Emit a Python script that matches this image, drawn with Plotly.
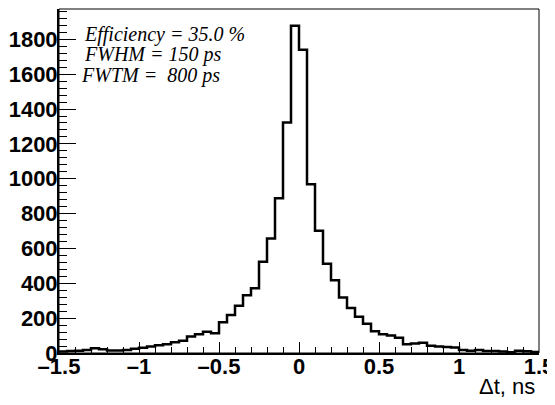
import plotly.graph_objects as go

# histogram: 60 bins of 0.05 ns from -1.5 to 1.5
bin_low = -1.5
bin_width = 0.05
counts = [
    8, 12, 13, 17, 27, 21, 15, 14, 17, 24,
    30, 37, 45, 50, 62, 70, 95, 108, 122, 113,
    176, 218, 271, 332, 371, 523, 657, 888, 1322, 1878,
    1740, 968, 701, 512, 418, 319, 258, 208, 168, 125,
    108, 100, 88, 50, 55, 59, 42, 38, 34, 31,
    17, 13, 17, 11, 11, 8, 5, 13, 10, 6,
]
edges = [round(bin_low + i * bin_width, 4) for i in range(len(counts) + 1)]

stat_lines = ["Efficiency = 35.0 %", "FWHM = 150 ps", "FWTM =  800 ps"]
x_ticks = [-1.5, -1, -0.5, 0, 0.5, 1, 1.5]
x_labels = ["\u20131.5", "\u20131", "\u20130.5", "0", "0.5", "1", "1.5"]

fig = go.Figure()

# step outline, ROOT "HIST" style
fig.add_trace(
    go.Scatter(
        x=edges,
        y=counts + [counts[-1]],
        mode="lines",
        line=dict(color="black", width=2.5, shape="hv"),
        showlegend=False,
        hoverinfo="skip",
    )
)

# frame around the pad
fig.add_shape(
    type="rect", xref="paper", yref="paper", x0=0, x1=1, y0=0, y1=1,
    line=dict(color="black", width=1), layer="above",
)

tick_font = dict(family="Liberation Sans", size=22, color="black", weight="bold")

# page body has an 8px margin, so the figure is shifted by it
fig.update_layout(
    width=547,
    height=397,
    margin=dict(l=51, r=16, t=1, b=52),
    paper_bgcolor="white",
    plot_bgcolor="white",
    showlegend=False,
    xaxis=dict(
        range=[-1.5, 1.5],
        tickvals=x_ticks,
        ticktext=x_labels,
        ticks="inside",
        ticklen=11,
        tickwidth=1,
        tickcolor="black",
        minor=dict(ticks="inside", ticklen=6, dtick=0.1, tickcolor="black", tickwidth=1),
        showline=True,
        linewidth=2,
        linecolor="black",
        showgrid=False,
        zeroline=False,
        tickfont=tick_font,
        ticklabelstandoff=-7,
        ticklabeloverflow="allow",
    ),
    yaxis=dict(
        range=[0, 1974],
        dtick=200,
        ticks="inside",
        ticklen=17,
        tickwidth=1,
        tickcolor="black",
        minor=dict(ticks="inside", ticklen=8, dtick=40, tickcolor="black", tickwidth=1),
        showline=True,
        linewidth=2,
        linecolor="black",
        showgrid=False,
        zeroline=False,
        tickfont=tick_font,
        ticklabelstandoff=-5,
    ),
)

# statistics text
for text, xpos, ypos in zip(stat_lines, [0.047, 0.047, 0.041], [0.925, 0.867, 0.807]):
    fig.add_annotation(
        text=text, xref="paper", yref="paper", x=xpos, y=ypos,
        xanchor="left", yanchor="middle", showarrow=False,
        font=dict(family="Liberation Serif", size=20, color="black", style="italic"),
    )

# axis title, ROOT puts it at the right end
fig.add_annotation(
    text="\u0394t, ns", xref="paper", yref="paper", x=0.996, y=-0.056,
    xanchor="right", yanchor="top", showarrow=False,
    font=dict(family="Liberation Sans", size=22, color="black"),
)

fig.write_html("out.html")
